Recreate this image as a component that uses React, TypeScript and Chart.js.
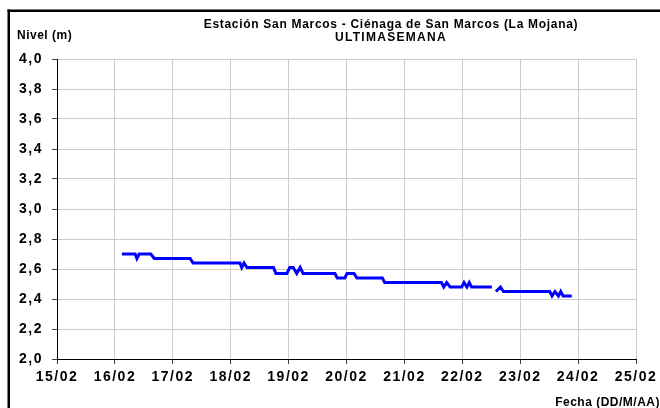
import React, { useEffect, useRef } from 'react';
import { Chart, registerables } from 'chart.js';

Chart.register(...registerables);

// Water level readings: day of February (decimal) and level in metres.
// A null level marks a break in the record.
const readingDays = [
  16.12, 16.35, 16.38, 16.42, 16.62, 16.68,
  17.30, 17.35,
  18.16, 18.19, 18.23, 18.28,
  18.74, 18.78,
  18.97, 19.02, 19.08, 19.14, 19.20, 19.25,
  19.80, 19.84, 19.97, 20.01, 20.13, 20.18,
  20.62, 20.66,
  21.64, 21.68, 21.73, 21.79,
  21.99, 22.03, 22.08, 22.12, 22.16,
  22.51, 22.545,
  22.58, 22.66, 22.71,
  23.51, 23.55, 23.60, 23.66, 23.70, 23.74, 23.89,
];
const readingLevels: (number | null)[] = [
  2.70, 2.70, 2.67, 2.70, 2.70, 2.67,
  2.67, 2.64,
  2.64, 2.61, 2.64, 2.61,
  2.61, 2.57,
  2.57, 2.61, 2.61, 2.57, 2.61, 2.57,
  2.57, 2.54, 2.54, 2.57, 2.57, 2.54,
  2.54, 2.51,
  2.51, 2.48, 2.51, 2.48,
  2.48, 2.51, 2.48, 2.51, 2.48,
  2.48, null,
  2.45, 2.48, 2.45,
  2.45, 2.42, 2.45, 2.42, 2.45, 2.42, 2.42,
];

// Axis ranges and labels
const dayRange = [15, 25];
const levelRange = [2.0, 4.0];
const levelStep = 0.2;
const monthLabel = '02';

const titleLines = [
  'Estación San Marcos - Ciénaga de San Marcos (La Mojana)',
  'ULTIMASEMANA',
];
const yAxisTitle = 'Nivel (m)';
const xAxisTitle = 'Fecha (DD/M/AA)';

const FONT = '"Liberation Sans", Arial, sans-serif';

const decorPlugin = {
  id: 'decor',
  beforeDraw(chart: any) {
    const ctx = chart.ctx as CanvasRenderingContext2D;
    ctx.save();
    ctx.fillStyle = '#ffffff';
    ctx.fillRect(0, 0, chart.width, chart.height);
    // outer frame (left and top edges)
    ctx.fillStyle = '#000000';
    ctx.fillRect(7.5, 9.5, 2.5, chart.height);
    ctx.fillRect(7.5, 9.5, chart.width, 2.5);
    ctx.restore();
    // spacing used by the tick labels
    (ctx as any).letterSpacing = '1.5px';
  },
  afterDraw(chart: any) {
    const ctx = chart.ctx as CanvasRenderingContext2D;
    ctx.save();
    ctx.fillStyle = '#000000';
    ctx.textBaseline = 'alphabetic';

    ctx.font = `bold 12px ${FONT}`;
    (ctx as any).letterSpacing = '0.7px';
    ctx.textAlign = 'center';
    ctx.fillText(titleLines[0], 391, 28);
    (ctx as any).letterSpacing = '1.3px';
    ctx.fillText(titleLines[1], 391, 41);

    (ctx as any).letterSpacing = '0.5px';
    ctx.textAlign = 'left';
    ctx.fillText(yAxisTitle, 17, 39);

    ctx.textAlign = 'right';
    ctx.fillText(xAxisTitle, 660, 406);
    ctx.restore();
  },
};

export default function App() {
  const canvasRef = useRef<HTMLCanvasElement | null>(null);

  useEffect(() => {
    const canvas = canvasRef.current;
    if (!canvas) return;

    const points = readingDays.map((d, i) => ({ x: d, y: readingLevels[i] }));

    const chart = new Chart(canvas, {
      type: 'line',
      data: {
        datasets: [
          {
            data: points as any,
            borderColor: '#0000ff',
            borderWidth: 3,
            pointRadius: 0,
            tension: 0,
            spanGaps: false,
            fill: false,
          },
        ],
      },
      options: {
        animation: false,
        responsive: false,
        devicePixelRatio: 1,
        layout: { padding: { left: 0, top: 59, right: 24, bottom: 18 } },
        plugins: {
          legend: { display: false },
          title: { display: false },
          tooltip: { enabled: false },
        },
        scales: {
          x: {
            type: 'linear',
            min: dayRange[0],
            max: dayRange[1],
            afterFit(scale: any) {
              scale.height = 31;
            },
            ticks: {
              stepSize: 1,
              autoSkip: false,
              maxRotation: 0,
              padding: 5,
              color: '#000000',
              font: { family: FONT, size: 14, weight: 'bold' },
              callback: (v: any) => `${String(v).padStart(2, '0')}/${monthLabel}`,
            },
            grid: {
              color: '#cccccc',
              lineWidth: 1,
              tickLength: 5,
              tickColor: '#404040',
            },
            border: { color: '#000000', width: 1 },
          },
          y: {
            type: 'linear',
            min: levelRange[0],
            max: levelRange[1],
            afterFit(scale: any) {
              scale.width = 57;
            },
            ticks: {
              stepSize: levelStep,
              padding: 9,
              color: '#000000',
              font: { family: FONT, size: 14, weight: 'bold' },
              callback: (v: any) => Number(v).toFixed(1).replace('.', ','),
            },
            grid: {
              color: '#cccccc',
              lineWidth: 1,
              tickLength: 5,
              tickColor: '#404040',
            },
            border: { color: '#000000', width: 1 },
          },
        },
      },
      plugins: [decorPlugin],
    });

    return () => chart.destroy();
  }, []);

  return (
    <div style={{ position: 'fixed', left: 0, top: 0, width: 660, height: 408, background: '#ffffff' }}>
      <canvas ref={canvasRef} width={660} height={408} style={{ display: 'block' }} />
    </div>
  );
}
